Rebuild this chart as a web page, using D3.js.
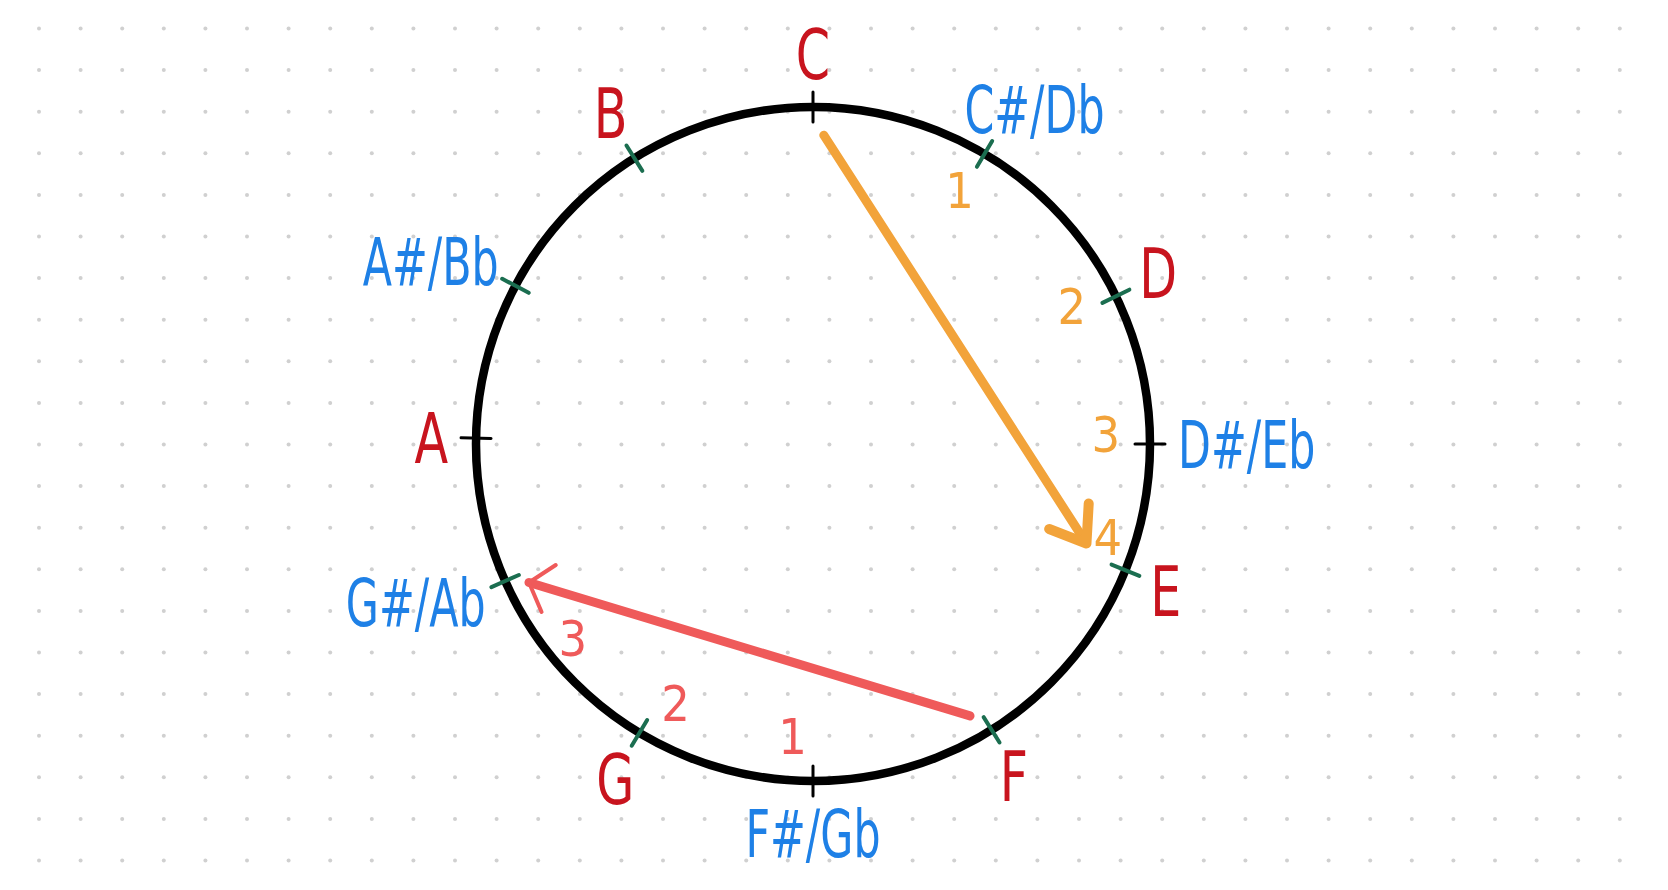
<!DOCTYPE html>
<html>
<head>
<meta charset="utf-8">
<script src="https://cdn.jsdelivr.net/npm/d3@7"></script>
<style>
  html, body { margin: 0; padding: 0; background: #fff; }
  svg { display: block; }
  .hand { font-family: "Liberation Sans Narrow", "DejaVu Sans Condensed", "Liberation Sans", sans-serif; }
</style>
</head>
<body>
<div class="chart"></div>
<script>
// the twelve notes, clockwise from the top, and where each tick was drawn (degrees)
const notes = ['C', 'C#/Db', 'D', 'D#/Eb', 'E', 'F', 'F#/Gb', 'G', 'G#/Ab', 'A', 'A#/Bb', 'B'];
const noteAngles = [0, 30.6, 64, 90, 112, 148, 180, 211, 246, 271, 298, 328];
const blackTicks = ['C', 'D#/Eb', 'F#/Gb', 'A'];

// step counts written along the two intervals
const upSteps = ['1', '2', '3', '4'];
const upStepAngles = [30, 62, 88, 107.5];
const downSteps = ['1', '2', '3'];
const downStepAngles = [184, 208, 231];

// interval arrows
const arrowFrom = ['C', 'F'];
const arrowTo = ['E', 'G#/Ab'];

const width = 1668, height = 890;
const cx = 813, cy = 444, radius = 337;

const svg = d3.select('.chart')
    .append('svg')
    .attr('width', width)
    .attr('height', height);

svg.append('rect')
    .attr('width', width)
    .attr('height', height)
    .attr('fill', '#fff');

// dotted paper
const gx = d3.scaleLinear().domain([0, 1]).range([39, 80.6]);
const gy = d3.scaleLinear().domain([0, 1]).range([28.5, 70.1]);
const dots = [];
d3.range(39).forEach(i => d3.range(21).forEach(j => dots.push([i, j])));
svg.append('g')
    .selectAll('circle')
    .data(dots)
    .join('circle')
    .attr('cx', d => gx(d[0]))
    .attr('cy', d => gy(d[1]))
    .attr('r', 2)
    .attr('fill', '#d0d0d0');

const g = svg.append('g')
    .attr('transform', 'translate(' + cx + ',' + cy + ')');

const angle = d3.scaleLinear().domain([0, 360]).range([0, 2 * Math.PI]);
const noteAngle = d3.scaleOrdinal().domain(notes).range(noteAngles);
const polar = (deg, r) => d3.pointRadial(angle(deg), r);

const red = '#c8141e', blue = '#1e80e6', green = '#1b6e50';
const orange = '#f2a33a', coral = '#ef5a5a';

// the wheel
g.append('circle')
    .attr('r', radius)
    .attr('fill', 'none')
    .attr('stroke', '#000')
    .attr('stroke-width', 8.5);

// ticks
g.append('g')
    .selectAll('line')
    .data(notes)
    .join('line')
    .attr('x1', d => polar(noteAngle(d), radius - 15)[0])
    .attr('y1', d => polar(noteAngle(d), radius - 15)[1])
    .attr('x2', d => polar(noteAngle(d), radius + 15)[0])
    .attr('y2', d => polar(noteAngle(d), radius + 15)[1])
    .attr('stroke', d => blackTicks.includes(d) ? '#000' : green)
    .attr('stroke-width', d => blackTicks.includes(d) ? 3 : 4)
    .attr('stroke-linecap', 'round');

// note labels: tall, narrow "hand" letters pushed outward by their own size
const gap = 28;
g.append('g')
    .selectAll('text')
    .data(notes)
    .join('text')
    .attr('class', 'hand')
    .attr('text-anchor', 'middle')
    .attr('font-size', d => d.length > 1 ? 66 : 70)
    .attr('fill', d => d.includes('#') ? blue : red)
    .text(d => d)
    .each(function(d) {
        const sel = d3.select(this);
        const w = this.getComputedTextLength() * (d.length > 1 ? 0.72 : 0.78);
        sel.attr('textLength', w).attr('lengthAdjust', 'spacingAndGlyphs');
        const a = angle(noteAngle(d));
        const capH = 0.73 * (d.length > 1 ? 66 : 70);
        const sx = Math.sin(a), sy = -Math.cos(a);
        const x = (radius + gap) * sx + sx * w / 2;
        const y = (radius + gap) * sy + sy * capH / 2;
        sel.attr('x', x).attr('y', y + capH / 2);
    });

// step numbers; the last one of each run sits nearer the rim to clear the arrowhead
function steps(labels, angles, color) {
    const rr = i => i === labels.length - 1 ? radius - 28 : radius - 44;
    g.append('g')
        .selectAll('text')
        .data(labels)
        .join('text')
        .attr('class', 'hand')
        .attr('text-anchor', 'middle')
        .attr('font-size', 50)
        .attr('fill', color)
        .attr('x', (d, i) => polar(angles[i], rr(i))[0])
        .attr('y', (d, i) => polar(angles[i], rr(i))[1] + 18)
        .text(d => d);
}
steps(upSteps, upStepAngles, orange);
steps(downSteps, downStepAngles, coral);

// arrows
const arrowStyles = [
    {color: orange, width: 9, startInset: 28, endInset: 46, head: 40, spread: 36, headWidth: 10},
    {color: coral, width: 9, startInset: 23, endInset: 21, head: 32, spread: 50, headWidth: 4}
];

arrowFrom.forEach((from, i) => {
    const s = arrowStyles[i];
    const p0 = polar(noteAngle(from) + 2, radius - s.startInset);
    const p1 = polar(noteAngle(arrowTo[i]) - 2, radius - s.endInset);
    g.append('line')
        .attr('x1', p0[0]).attr('y1', p0[1])
        .attr('x2', p1[0]).attr('y2', p1[1])
        .attr('stroke', s.color)
        .attr('stroke-width', s.width)
        .attr('stroke-linecap', 'round');

    const back = Math.atan2(p0[1] - p1[1], p0[0] - p1[0]);
    const sp = s.spread * Math.PI / 180;
    const a1 = [p1[0] + s.head * Math.cos(back - sp), p1[1] + s.head * Math.sin(back - sp)];
    const a2 = [p1[0] + s.head * Math.cos(back + sp), p1[1] + s.head * Math.sin(back + sp)];
    g.append('path')
        .attr('d', d3.line()([a1, p1, a2]))
        .attr('fill', 'none')
        .attr('stroke', s.color)
        .attr('stroke-width', s.headWidth)
        .attr('stroke-linecap', 'round')
        .attr('stroke-linejoin', 'round');
});
</script>
</body>
</html>
